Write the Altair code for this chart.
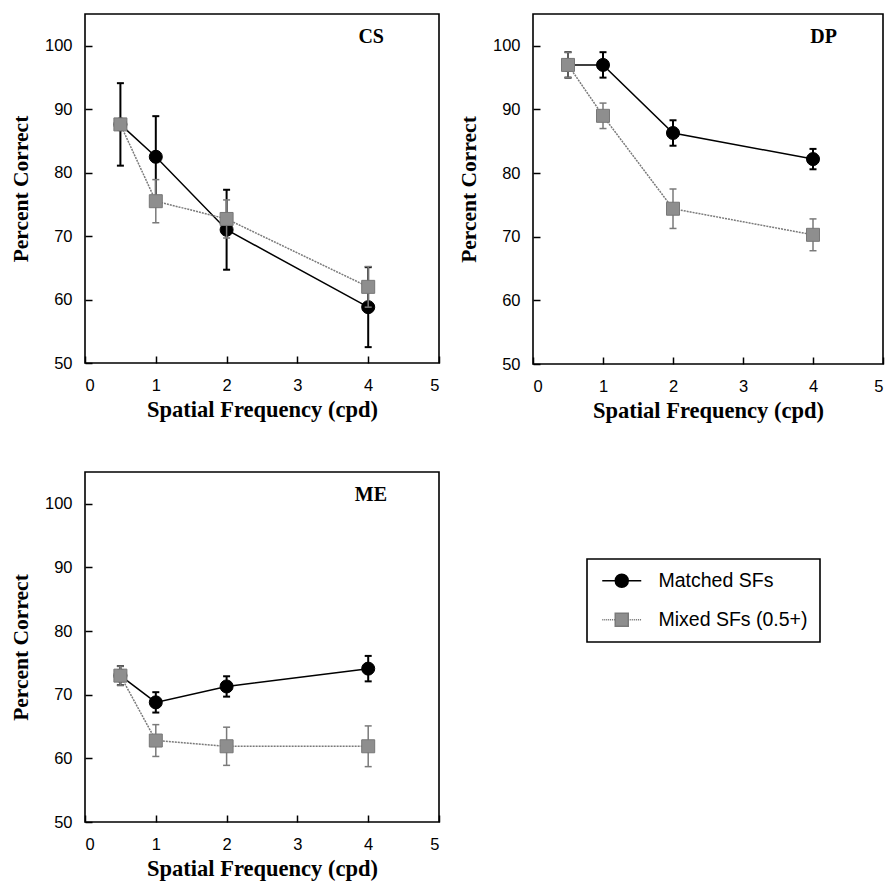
import altair as alt
import pandas as pd

# ---------------- data ----------------
sf = [0.5, 1, 2, 4]
series_names = ["Matched SFs", "Mixed SFs (0.5+)"]
panel_names = ["CS", "DP", "ME"]

cs_matched = [87.6, 82.5, 71.0, 58.8]
cs_matched_err = [6.5, 6.4, 6.3, 6.3]
cs_mixed = [87.6, 75.5, 72.7, 62.0]
cs_mixed_err = [0.0, 3.4, 3.0, 3.2]

dp_matched = [97.0, 97.0, 86.3, 82.2]
dp_matched_err = [2.0, 2.0, 2.0, 1.6]
dp_mixed = [97.0, 89.0, 74.4, 70.3]
dp_mixed_err = [2.0, 2.0, 3.1, 2.5]

me_matched = [73.0, 68.8, 71.3, 74.1]
me_matched_err = [1.5, 1.6, 1.6, 2.0]
me_mixed = [73.0, 62.8, 61.9, 61.9]
me_mixed_err = [1.5, 2.5, 3.0, 3.2]

y_ticks = [50, 60, 70, 80, 90, 100]
x_ticks = [0, 1, 2, 3, 4, 5]

# ---------------- style ----------------
GRAY_FILL = "#8e8e8e"
GRAY_LINE = "#7a7a7a"
SERIF = "Liberation Serif"
SANS = "Liberation Sans"


def make_df(matched, matched_err, mixed, mixed_err):
    rows = []
    for name, vals, errs in [(series_names[0], matched, matched_err),
                             (series_names[1], mixed, mixed_err)]:
        for x, v, e in zip(sf, vals, errs):
            rows.append({"sf": x, "pc": v, "lo": v - e, "hi": v + e, "series": name})
    return pd.DataFrame(rows)


xenc = alt.X("sf:Q", scale=alt.Scale(domain=[0, 5], nice=False),
             axis=alt.Axis(values=x_ticks, title="Spatial Frequency (cpd)", format="d"))
yenc = alt.Y("pc:Q", scale=alt.Scale(domain=[50, 105], nice=False),
             axis=alt.Axis(values=y_ticks, title="Percent Correct"))

# legend symbols (line + marker), in units of sqrt(size)/2
circle_path = "M-3,0L-1,0M1,0L3,0M-1,0A1,1,0,1,1,1,0A1,1,0,1,1,-1,0Z"
dash_parts = []
for i in range(7):
    a = -3 + i * 0.3
    dash_parts.append(f"M{a:.2f},0L{a + 0.17:.2f},0")
    b = 1 + i * 0.3
    dash_parts.append(f"M{b:.2f},0L{b + 0.17:.2f},0")
square_path = "".join(dash_parts) + "M-1,-1L1,-1L1,1L-1,1Z"


def series_layers(base, name, line_color, dash, rule_w, shape, fill, stroke, size):
    d = base.transform_filter(alt.datum.series == name)
    line_kw = dict(color=line_color, strokeWidth=1.5)
    if dash:
        line_kw["strokeDash"] = dash
    line = d.mark_line(**line_kw).encode(x=xenc, y=yenc)
    rule = d.mark_rule(color=line_color, strokeWidth=rule_w).encode(
        x=xenc, y=alt.Y("lo:Q"), y2="hi:Q")
    cap_lo = d.mark_tick(orient="horizontal", color=line_color, size=7, thickness=rule_w,
                         opacity=1).encode(x=xenc, y=alt.Y("lo:Q"))
    cap_hi = d.mark_tick(orient="horizontal", color=line_color, size=7, thickness=rule_w,
                         opacity=1).encode(x=xenc, y=alt.Y("hi:Q"))
    pts = d.mark_point(shape=shape, filled=True, fill=fill, stroke=stroke, strokeWidth=1,
                       size=size, opacity=1).encode(x=xenc, y=yenc)
    return [line, rule, cap_lo, cap_hi, pts]


def panel(label, df, w, h, label_dx, with_legend=False):
    base = alt.Chart(df)
    layers = []
    layers += series_layers(base, series_names[0], "black", None, 2, "circle",
                            "black", "black", 170)
    layers += series_layers(base, series_names[1], GRAY_LINE, [2, 1], 1.5, "square",
                            GRAY_FILL, "#777777", 169)
    lab = alt.Chart(pd.DataFrame({"panel": [label]})).mark_text(
        font=SERIF, fontSize=20, fontWeight="bold", color="black",
        align="right", baseline="middle").encode(
        text="panel:N", x=alt.value(w - label_dx), y=alt.value(23))
    layers.append(lab)
    if with_legend:
        leg = base.transform_filter("false").mark_point(
            filled=True, size=169, strokeWidth=1.5, opacity=1).encode(
            x=xenc, y=yenc,
            shape=alt.Shape("series:N", title=None,
                            scale=alt.Scale(domain=series_names, range=[circle_path, square_path])),
            fill=alt.Fill("series:N", title=None,
                          scale=alt.Scale(domain=series_names, range=["black", GRAY_FILL])),
            stroke=alt.Stroke("series:N", title=None,
                              scale=alt.Scale(domain=series_names, range=["black", GRAY_LINE])),
        )
        layers.append(leg)
    return alt.layer(*layers).properties(width=w, height=h)


cs = panel(panel_names[0], make_df(cs_matched, cs_matched_err, cs_mixed, cs_mixed_err),
           354, 349, 55)
dp = panel(panel_names[1], make_df(dp_matched, dp_matched_err, dp_mixed, dp_mixed_err),
           350, 350, 46)
me = panel(panel_names[2], make_df(me_matched, me_matched_err, me_mixed, me_mixed_err),
           354, 350, 52, with_legend=True)

PAD_L, PAD_T = 9, 13
CS_X0, CS_Y0 = 85, 13   # where the first plot area should sit

chart = alt.vconcat(
    alt.hconcat(cs, dp, spacing=16),
    me,
    spacing=48,
).properties(
    padding={"left": PAD_L, "top": PAD_T, "right": 0, "bottom": 0},
    background="white",
).configure_view(
    stroke="black", strokeWidth=1.6, fill="white",
).configure_axis(
    domain=False, grid=False, ticks=True, tickSize=7, tickWidth=1.5, tickColor="black",
    offset=-7,
    labelFont=SANS, labelFontSize=16.5, labelColor="black",
    titleFont=SERIF, titleFontWeight="bold", titleColor="black",
).configure_axisY(
    labelPadding=13, titlePadding=12, titleFontSize=21.5,
).configure_axisX(
    labelPadding=14, titlePadding=5, titleFontSize=22.5,
).configure_legend(
    orient="none", legendX=587 - CS_X0, legendY=558 - CS_Y0,
    strokeColor="black", strokeWidth=1.6, padding=12, rowPadding=18,
    labelFont=SANS, labelFontSize=19.5, labelColor="black",
    symbolSize=169, symbolOffset=13, labelOffset=27,
)

chart.save("out.html", embed_options={"renderer": "svg", "actions": False})
